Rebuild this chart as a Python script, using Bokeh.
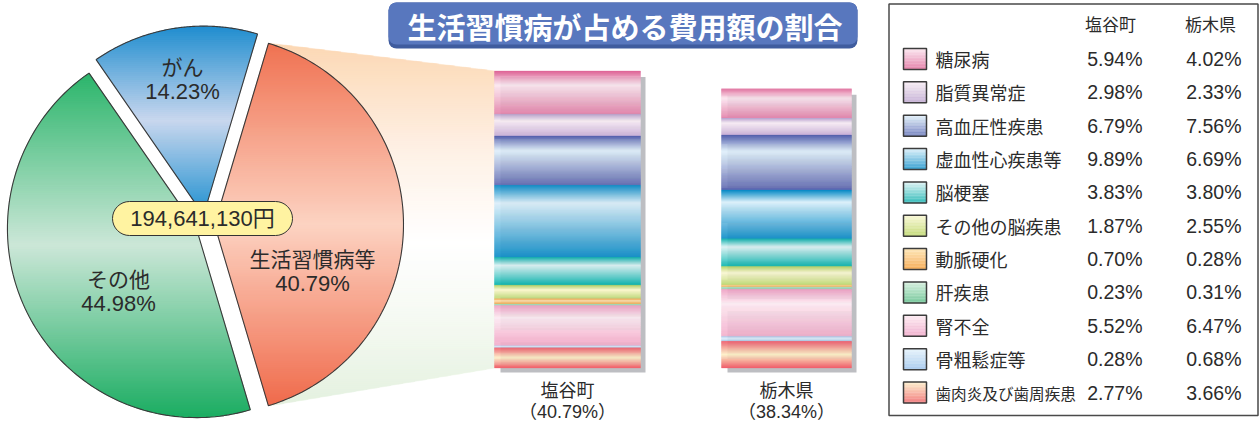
import numpy as np
from bokeh.plotting import figure
from bokeh.models import Range1d
from bokeh.core.properties import value
from bokeh.embed import file_html
from bokeh.resources import INLINE

# ---------------- data ----------------
TITLE = "生活習慣病が占める費用額の割合"
pie_labels = ["生活習慣病等", "その他", "がん"]
pie_values = [40.79, 44.98, 14.23]
pie_total_label = "194,641,130円"

categories = ["糖尿病", "脂質異常症", "高血圧性疾患", "虚血性心疾患等", "脳梗塞",
              "その他の脳疾患", "動脈硬化", "肝疾患", "腎不全", "骨粗鬆症等",
              "歯肉炎及び歯周疾患"]
shioya = [5.94, 2.98, 6.79, 9.89, 3.83, 1.87, 0.70, 0.23, 5.52, 0.28, 2.77]
tochigi = [4.02, 2.33, 7.56, 6.69, 3.80, 2.55, 0.28, 0.31, 6.47, 0.68, 3.66]
area_names = ["塩谷町", "栃木県"]
area_totals = [40.79, 38.34]

# ---------------- styles ----------------
cat_dark = ["#DE6496", "#B69ECC", "#535EAC", "#0388C5", "#00ACA9", "#B2D15A",
            "#F39A3C", "#5BBE86", "#F09EC2", "#95C0EA", "#EE5868"]
cat_light = ["#FBE6EF", "#F7ECF4", "#E0F1FB", "#DCF0FA", "#DDF3F4", "#FBF8D2",
             "#FDE3AC", "#D2EEDC", "#FCEBF2", "#E4F1FB", "#FDF0C6"]
cat_bottom = ["#E582AA", "#CBB3D8", "#5D66B0", "#0A8CC8", "#00B2AD", "#BFD978",
              "#F5A64A", "#6CC492", "#F3ACCA", "#A3C9EC", "#F05E6B"]
cat_lightpos = [0.33, 0.3, 0.3, 0.25, 0.3, 0.35, 0.4, 0.4, 0.3, 0.4, 0.5]

pie_stops = [
    [(0, "#F07252"), (0.5, "#FCD3C2"), (1, "#F06B4C")],
    [(0, "#2BB56B"), (0.5, "#CCE7D8"), (1, "#1BAD62")],
    [(0, "#1F8DCF"), (0.5, "#C9D7EE"), (1, "#2090D0")],
]
TXT = "#2b2b2b"
CJK = "Noto Sans CJK JP"
NUMF = "Liberation Sans, Noto Sans CJK JP"

W, H = 1259.0, 425.0


def Y(py):
    return H - py


def hex2rgb(h):
    h = h.lstrip("#")
    return [int(h[i:i + 2], 16) for i in (0, 2, 4)]


def mix(c1, c2, t):
    a, b = hex2rgb(c1), hex2rgb(c2)
    return "#%02x%02x%02x" % tuple(int(round(a[i] + (b[i] - a[i]) * t)) for i in range(3))


def grad(stops, t):
    t = min(max(t, 0.0), 1.0)
    for (p0, c0), (p1, c1) in zip(stops[:-1], stops[1:]):
        if t <= p1:
            return mix(c0, c1, (t - p0) / (p1 - p0) if p1 > p0 else 0)
    return stops[-1][1]


def clip_poly(pts, y0, y1):
    def clip(poly, keep, yc):
        out = []
        n = len(poly)
        for i in range(n):
            cur, prev = poly[i], poly[i - 1]
            kc, kp = keep(cur), keep(prev)
            if kc:
                if not kp:
                    t = (yc - prev[1]) / (cur[1] - prev[1])
                    out.append((prev[0] + (cur[0] - prev[0]) * t, yc))
                out.append(cur)
            elif kp:
                t = (yc - prev[1]) / (cur[1] - prev[1])
                out.append((prev[0] + (cur[0] - prev[0]) * t, yc))
        return out
    a = clip(pts, lambda q: q[1] >= y0, y0)
    if len(a) < 3:
        return []
    b = clip(a, lambda q: q[1] <= y1, y1)
    return b if len(b) >= 3 else []


def gradient_patches(p, pts, stops, step=2.0):
    ys = [q[1] for q in pts]
    ymin, ymax = min(ys), max(ys)
    xs_all, ys_all, cols = [], [], []
    y0 = ymin
    while y0 < ymax:
        poly = clip_poly(pts, y0, min(y0 + step + 0.7, ymax))
        if poly:
            xs_all.append([q[0] for q in poly])
            ys_all.append([Y(q[1]) for q in poly])
            cols.append(grad(stops, (y0 + step / 2 - ymin) / (ymax - ymin)))
        y0 += step
    p.patches(xs_all, ys_all, fill_color=cols, line_color=cols, line_width=0.4)


p = figure(width=int(W), height=int(H), x_range=Range1d(0, W), y_range=Range1d(0, H),
           output_backend="svg", toolbar_location=None, min_border=0,
           x_axis_type=None, y_axis_type=None, outline_line_color=None)
p.grid.visible = False
p.background_fill_color = "white"
p.border_fill_color = "white"

# ---------------- geometry constants ----------------
PCX, PCY, PR, PEXP, PSTART = 204.5, 224.0, 189.0, 9.5, 16.6
BAR_BASE = 367.5
BAR_SCALE = 7.28
bar_left = [494, 721]
bar_right = [640, 851]

# ---------------- pie wedges ----------------
wedges = []
a = PSTART
for v in pie_values:
    span = v / sum(pie_values) * 360.0
    mid = np.radians(a + span / 2)
    ox = PCX + PEXP * np.sin(mid)
    oy = PCY - PEXP * np.cos(mid)
    th = np.radians(np.linspace(a, a + span, 120))
    pts = [(ox, oy)] + [(ox + PR * np.sin(t), oy - PR * np.cos(t)) for t in th]
    wedges.append(pts)
    a += span

# connecting beam (behind the highlighted wedge)
ow = wedges[0]
top_corner = ow[1]
bot_corner = ow[-1]
bar1_top = BAR_BASE - BAR_SCALE * sum(shioya)
beam = [(top_corner[0] + 2, top_corner[1]), (bar_left[0], bar1_top),
        (bar_left[0], BAR_BASE), (bot_corner[0] + 2, bot_corner[1])]
gradient_patches(p, beam, [(0, "#FCD8B4"), (0.3, "#FEF1E6"), (0.55, "#FFFFFF"),
                           (0.8, "#F3F8F0"), (1, "#E4F1DF")], step=2.0)

for pts, stops in zip(wedges, pie_stops):
    gradient_patches(p, pts, stops, step=2.0)
p.patches([[q[0] for q in w] for w in wedges], [[Y(q[1]) for q in w] for w in wedges],
          fill_color=None, line_color="#3a3a3a", line_width=1.1)

# ---------------- stacked gradient bars ----------------
for bi, vals in enumerate([shioya, tochigi]):
    total_h = BAR_SCALE * sum(vals)
    # shadow
    p.quad(left=[bar_left[bi] + 6], right=[bar_right[bi] + 5],
           top=[Y(BAR_BASE - total_h + 6)], bottom=[Y(BAR_BASE + 4.5)],
           fill_color="#BDBEC2", line_color=None)
    L, R_, T, B, C = [], [], [], [], []
    for i in range(len(vals)):
        seg_top = BAR_BASE - BAR_SCALE * sum(vals[i:])
        seg_bot = BAR_BASE - BAR_SCALE * sum(vals[i + 1:])
        h = seg_bot - seg_top
        n = max(1, int(np.ceil(h / 1.0)))
        stops = [(0, cat_dark[i]), (cat_lightpos[i], cat_light[i]), (1, cat_bottom[i])]
        for k in range(n):
            y0 = seg_top + h * k / n
            y1 = seg_top + h * (k + 1) / n
            t = (k + 0.5) / n if n > 1 else 0.5
            L.append(bar_left[bi]); R_.append(bar_right[bi])
            T.append(Y(y0)); B.append(Y(y1))
            C.append(grad(stops, t))
    p.quad(left=L, right=R_, top=T, bottom=B, fill_color=C, line_color=C, line_width=0.3)

# bar labels
bx = [(l + r) / 2 for l, r in zip(bar_left, bar_right)]
p.text(x=bx, y=[Y(388)] * 2, text=area_names, text_font=value(CJK),
       text_font_size=value("18px"), text_align="center", text_baseline="middle",
       text_color=TXT)
p.text(x=bx, y=[Y(411)] * 2, text=["（%.2f%%）" % v for v in area_totals],
       text_font=value(NUMF), text_font_size=value("18px"), text_align="center",
       text_baseline="middle", text_color=TXT)

# ---------------- pie labels ----------------
lab_pos = [(312, 257), (118, 277), (182, 65)]
p.text(x=[q[0] for q in lab_pos], y=[Y(q[1]) for q in lab_pos], text=pie_labels,
       text_font=value(CJK), text_font_size=value("21px"), text_align="center",
       text_baseline="middle", text_color=TXT)
p.text(x=[q[0] for q in lab_pos], y=[Y(q[1] + 26) for q in lab_pos],
       text=["%.2f%%" % v for v in pie_values], text_font=value(NUMF),
       text_font_size=value("22px"), text_align="center", text_baseline="middle",
       text_color=TXT)

# total pill
p.quad(left=[112], right=[292], top=[Y(201)], bottom=[Y(235)], border_radius=17,
       fill_color="#FFF3A1", line_color="#333333", line_width=1)
p.text(x=[202], y=[Y(218)], text=[pie_total_label], text_font=value(NUMF),
       text_font_size=value("22px"), text_align="center", text_baseline="middle",
       text_color=TXT)

# ---------------- title ----------------
p.quad(left=[388], right=[857], top=[Y(2)], bottom=[Y(48)], border_radius=8,
       fill_color="#3F5C9E", line_color=None)
p.quad(left=[388], right=[857], top=[Y(2)], bottom=[Y(44)], border_radius=8,
       fill_color="#5877BE", line_color=None)
p.text(x=[624.5], y=[Y(25)], text=[TITLE], text_font=value(CJK),
       text_font_size=value("29px"), text_font_style="bold", text_align="center",
       text_baseline="middle", text_color="white")

# ---------------- legend table ----------------
p.quad(left=[888.5], right=[1257.5], top=[Y(3.5)], bottom=[Y(415)],
       fill_color=None, line_color="#4a4a4a", line_width=1.5)
p.text(x=[1110, 1210], y=[Y(23)] * 2, text=area_names, text_font=value(CJK),
       text_font_size=value("17px"), text_align="center", text_baseline="middle",
       text_color=TXT)

row_y = [58.5 + i * 33.35 for i in range(len(categories))]
SL, SR, SH = 903, 926, 21
L, R_, T, B, C = [], [], [], [], []
for i, ry in enumerate(row_y):
    top_c = mix(cat_light[i], "#FFFFFF", 0.2)
    bot_c = mix(cat_dark[i], cat_light[i], 0.25)
    n = 14
    for k in range(n):
        y0 = ry - SH / 2 + SH * k / n
        y1 = ry - SH / 2 + SH * (k + 1) / n
        L.append(SL); R_.append(SR); T.append(Y(y0)); B.append(Y(y1))
        C.append(mix(top_c, bot_c, (k + 0.5) / n))
p.quad(left=L, right=R_, top=T, bottom=B, fill_color=C, line_color=C, line_width=0.3)
p.quad(left=[SL] * len(row_y), right=[SR] * len(row_y),
       top=[Y(ry - SH / 2) for ry in row_y], bottom=[Y(ry + SH / 2) for ry in row_y],
       fill_color=None, line_color="#3c3c3c", line_width=1.5)

for i, (cat, ry) in enumerate(zip(categories, row_y)):
    fs = 18.0 if len(cat) * 18 <= 140 else 140.0 / len(cat)
    p.text(x=[935], y=[Y(ry)], text=[cat], text_font=value(CJK),
           text_font_size=value("%.1fpx" % fs), text_align="left",
           text_baseline="middle", text_color=TXT)
p.text(x=[1142] * len(row_y), y=[Y(ry) for ry in row_y],
       text=["%.2f%%" % v for v in shioya], text_font=value(NUMF),
       text_font_size=value("19.5px"), text_align="right", text_baseline="middle",
       text_color=TXT)
p.text(x=[1241] * len(row_y), y=[Y(ry) for ry in row_y],
       text=["%.2f%%" % v for v in tochigi], text_font=value(NUMF),
       text_font_size=value("19.5px"), text_align="right", text_baseline="middle",
       text_color=TXT)

open("out.html", "w").write(file_html(p, INLINE))
